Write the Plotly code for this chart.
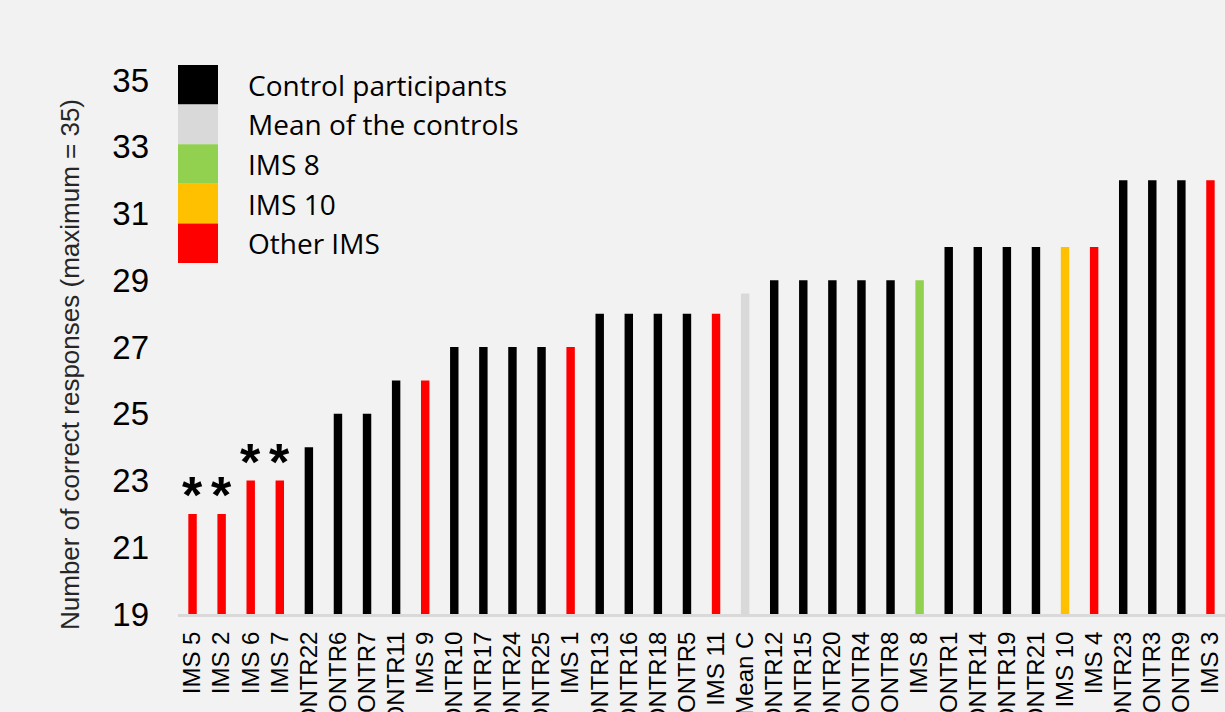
import plotly.graph_objects as go

# Participants ordered by score, with the mean of the control group inserted
participants = [
    "IMS 5", "IMS 2", "IMS 6", "IMS 7", "CONTR22", "CONTR6", "CONTR7", "CONTR11",
    "IMS 9", "CONTR10", "CONTR17", "CONTR24", "CONTR25", "IMS 1", "CONTR13",
    "CONTR16", "CONTR18", "CONTR5", "IMS 11", "Mean C", "CONTR12", "CONTR15",
    "CONTR20", "CONTR4", "CONTR8", "IMS 8", "CONTR1", "CONTR14", "CONTR19",
    "CONTR21", "IMS 10", "IMS 4", "CONTR23", "CONTR3", "CONTR9", "IMS 3",
]
scores = [
    22, 22, 23, 23, 24, 25, 25, 26,
    26, 27, 27, 27, 27, 27, 28,
    28, 28, 28, 28, 28.6, 29, 29,
    29, 29, 29, 29, 30, 30, 30,
    30, 30, 30, 32, 32, 32, 32,
]
groups = [
    "other", "other", "other", "other", "control", "control", "control", "control",
    "other", "control", "control", "control", "control", "other", "control",
    "control", "control", "control", "other", "mean", "control", "control",
    "control", "control", "control", "ims8", "control", "control", "control",
    "control", "ims10", "other", "control", "control", "control", "other",
]
# Participants significantly below the controls
significant = ["IMS 5", "IMS 2", "IMS 6", "IMS 7"]

legend_keys = ["control", "mean", "ims8", "ims10", "other"]
legend_labels = ["Control participants", "Mean of the controls", "IMS 8", "IMS 10", "Other IMS"]
group_colors = {
    "control": "#000000",
    "mean": "#d9d9d9",
    "ims8": "#92d050",
    "ims10": "#ffc000",
    "other": "#ff0000",
}

y_ticks = [19, 21, 23, 25, 27, 29, 31, 33, 35]

W, H = 1225, 712
ML, MR, MT, MB = 178, 0, 80, 98
plot_w = W - ML - MR
plot_h = H - MT - MB


def px_x(p):
    return (p - ML) / plot_w


def px_y(p):
    return (H - MB - p) / plot_h


fig = go.Figure()
fig.add_trace(go.Bar(
    x=participants,
    y=scores,
    marker=dict(color=[group_colors[g] for g in groups], line=dict(width=0)),
    showlegend=False,
    hoverinfo="x+y",
))

# Asterisks above the significant participants
for name, val in zip(participants, scores):
    if name in significant:
        fig.add_annotation(
            x=name, y=val, text="<b>*</b>", showarrow=False,
            yanchor="bottom", yshift=-12,
            font=dict(family="Liberation Sans, Arial", size=52, color="#000000"),
        )

# Colour key: stacked swatches with labels
row_h = 39.6
top = 65
for i, (key, label) in enumerate(zip(legend_keys, legend_labels)):
    y0 = top + i * row_h
    y1 = y0 + row_h
    fig.add_shape(
        type="rect", xref="paper", yref="paper",
        x0=px_x(178), x1=px_x(218), y0=px_y(y1), y1=px_y(y0),
        fillcolor=group_colors[key], line=dict(width=0), layer="above",
    )
    fig.add_annotation(
        xref="paper", yref="paper", x=px_x(246), y=px_y((y0 + y1) / 2),
        text=label, showarrow=False, xanchor="left", yanchor="middle",
        font=dict(family="Open Sans, sans-serif", size=28, color="#000000"),
    )

# Y axis title
fig.add_annotation(
    xref="paper", yref="paper", x=px_x(70), y=px_y(365),
    text="Number of correct responses (maximum = 35)", textangle=-90,
    showarrow=False, xanchor="center", yanchor="middle",
    font=dict(family="Liberation Sans, Arial", size=26, color="#262626"),
)

fig.update_layout(
    width=W, height=H,
    margin=dict(l=ML, r=MR, t=MT, b=MB, autoexpand=False),
    paper_bgcolor="#f2f2f2",
    plot_bgcolor="#f2f2f2",
    bargap=0.71,
    xaxis=dict(
        type="category",
        tickmode="array",
        tickvals=participants,
        ticktext=participants,
        tickangle=-90,
        tickfont=dict(family="Liberation Sans, Arial", size=24, color="#000000"),
        showline=True, linecolor="#d9d9d9", linewidth=3,
        showgrid=False, zeroline=False, ticks="",
        automargin=False,
        ticklabelstandoff=5,
    ),
    yaxis=dict(
        range=[19, 35],
        tickvals=y_ticks,
        tickfont=dict(family="Liberation Sans, Arial", size=33, color="#000000"),
        showgrid=False, zeroline=False, showline=False, ticks="",
        automargin=False,
        ticklabelstandoff=28,
    ),
)

fig.write_html("out.html")
